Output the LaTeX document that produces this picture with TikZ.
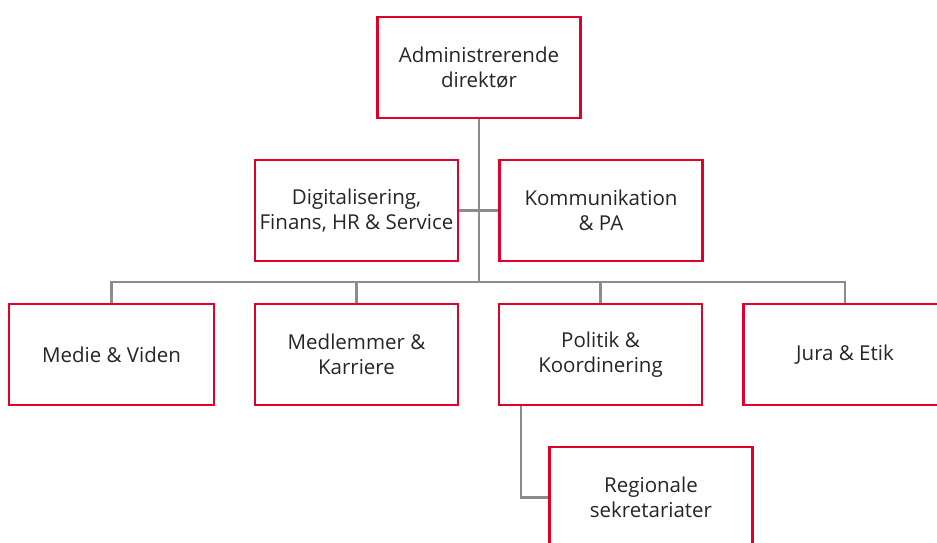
\documentclass[tikz,border=0pt]{standalone}
\usepackage{fontspec}
\setmainfont{Open Sans}[Ligatures=NoCommon]
\definecolor{boxred}{HTML}{E0002A}
\definecolor{linegray}{HTML}{8C8C8C}
\definecolor{txt}{HTML}{262626}
\tikzset{
  orgbox/.style={draw=boxred, line width=2.6pt, fill=white, minimum width=203pt, minimum height=101pt,
    inner sep=0pt, align=center, text=txt, font=\fontsize{20.5pt}{25pt}\selectfont},
  conn/.style={draw=linegray, line width=2.2pt}
}
\begin{document}
\begin{tikzpicture}[x=1pt,y=-1pt]
\useasboundingbox (0,0) rectangle (937,543);
\clip (0,0) rectangle (937,543);
\node[orgbox] (ceo) at (479,67.5) {Administrerende\\direktør};
\node[orgbox] (dig) at (356.5,210.5) {Digitalisering,\\Finans, HR \& Service};
\node[orgbox] (kom) at (601,210.5) {Kommunikation\\\& PA};
\node[orgbox, minimum width=205pt] (medie) at (111.5,354.5) {Medie \& Viden};
\node[orgbox] (medl) at (356.5,354.5) {Medlemmer \&\\Karriere};
\node[orgbox] (pol) at (600.5,354.5) {Politik \&\\Koordinering};
\node[orgbox] (jura) at (845,354.5) {Jura \& Etik};
\node[orgbox] (reg) at (651,497.5) {Regionale\\sekretariater};
\coordinate (bus) at (479,282);
\coordinate (elb) at (521,497.5);
\draw[conn] (ceo.south) -- (bus);
\draw[conn] (dig.east) -- (kom.west);
\draw[conn] (medie.north) |- (bus) -| (jura.north);
\draw[conn] (medl.north) -- (medl.north |- bus);
\draw[conn] (pol.north) -- (pol.north |- bus);
\draw[conn] (pol.south -| elb) |- (reg.west);
\end{tikzpicture}
\end{document}
